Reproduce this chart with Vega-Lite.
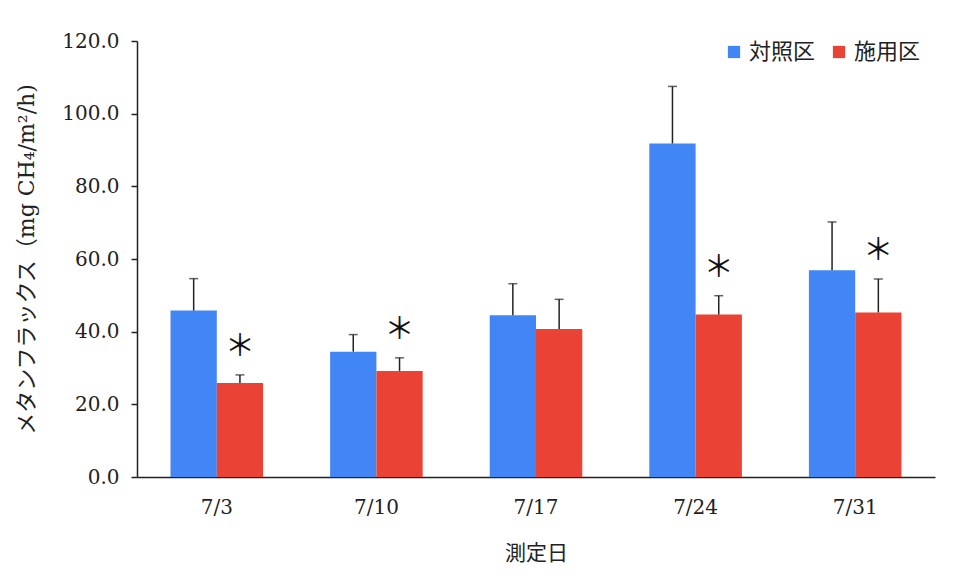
{
  "$schema": "https://vega.github.io/schema/vega-lite/v6.json",
  "autosize": {"type": "none"},
  "width": 798,
  "height": 436,
  "padding": {"left": 137, "top": 41, "right": 25, "bottom": 107},
  "background": "white",
  "config": {
    "view": {"stroke": null},
    "font": "DejaVu Serif, Noto Sans CJK JP"
  },
  "data": {
    "values": [
      {"date": "7/3", "group": "対照区", "value": 45.8, "upper": 54.6, "sig": ""},
      {"date": "7/3", "group": "施用区", "value": 25.9, "upper": 28.1, "sig": "＊"},
      {"date": "7/10", "group": "対照区", "value": 34.5, "upper": 39.2, "sig": ""},
      {"date": "7/10", "group": "施用区", "value": 29.2, "upper": 32.8, "sig": "＊"},
      {"date": "7/17", "group": "対照区", "value": 44.5, "upper": 53.2, "sig": ""},
      {"date": "7/17", "group": "施用区", "value": 40.7, "upper": 48.9, "sig": ""},
      {"date": "7/24", "group": "対照区", "value": 91.8, "upper": 107.5, "sig": ""},
      {"date": "7/24", "group": "施用区", "value": 44.7, "upper": 49.9, "sig": "＊"},
      {"date": "7/31", "group": "対照区", "value": 56.9, "upper": 70.2, "sig": ""},
      {"date": "7/31", "group": "施用区", "value": 45.3, "upper": 54.5, "sig": "＊"}
    ]
  },
  "encoding": {
    "x": {
      "field": "date",
      "type": "nominal",
      "sort": null,
      "scale": {"paddingInner": 0.42, "paddingOuter": 0.21},
      "axis": {
        "title": "測定日",
        "titleFont": "Noto Sans CJK JP",
        "titleFontSize": 21,
        "titleFontWeight": "normal",
        "titleColor": "#222",
        "titleY": 76,
        "titleBaseline": "middle",
        "labelAngle": 0,
        "labelFontSize": 20,
        "labelColor": "#222",
        "labelPadding": 20,
        "ticks": false,
        "domainColor": "#222",
        "domainWidth": 1.5
      }
    },
    "xOffset": {"field": "group", "type": "nominal", "sort": ["対照区", "施用区"]}
  },
  "layer": [
    {
      "mark": {"type": "bar"},
      "encoding": {
        "y": {
          "field": "value",
          "type": "quantitative",
          "scale": {"domain": [0, 120]},
          "axis": {
            "title": "メタンフラックス（mg CH₄/m²/h)",
            "titleFontSize": 22,
            "titleFontWeight": "normal",
            "titleColor": "#222",
            "titleAngle": -90,
            "titleX": -111,
            "titleY": 218,
            "titleAlign": "center",
            "titleBaseline": "middle",
            "values": [0, 20, 40, 60, 80, 100, 120],
            "format": ".1f",
            "labelFontSize": 20,
            "labelColor": "#222",
            "labelPadding": 12,
            "tickSize": 6,
            "tickColor": "#222",
            "tickWidth": 1.5,
            "domainColor": "#222",
            "domainWidth": 1.5,
            "grid": false
          }
        },
        "color": {
          "field": "group",
          "type": "nominal",
          "sort": ["対照区", "施用区"],
          "scale": {"domain": ["対照区", "施用区"], "range": ["#4285F4", "#EA4335"]},
          "legend": {
            "title": null,
            "orient": "none",
            "direction": "horizontal",
            "legendX": 586,
            "legendY": 0,
            "symbolType": "square",
            "symbolSize": 150,
            "symbolStrokeWidth": 0,
            "labelFont": "Noto Sans CJK JP",
            "labelFontSize": 22,
            "labelColor": "#222",
            "columnPadding": 12
          }
        }
      }
    },
    {
      "mark": {"type": "rule", "color": "#222", "strokeWidth": 1.5},
      "encoding": {
        "y": {"field": "value", "type": "quantitative"},
        "y2": {"field": "upper"}
      }
    },
    {
      "mark": {"type": "tick", "color": "#222", "thickness": 1.5, "size": 9},
      "encoding": {
        "y": {"field": "upper", "type": "quantitative"}
      }
    },
    {
      "transform": [{"filter": "datum.sig != ''"}],
      "mark": {"type": "text", "font": "Noto Sans CJK JP", "fontSize": 30, "baseline": "middle", "dy": -28, "color": "#111"},
      "encoding": {
        "y": {"field": "upper", "type": "quantitative"},
        "text": {"field": "sig"}
      }
    }
  ]
}
